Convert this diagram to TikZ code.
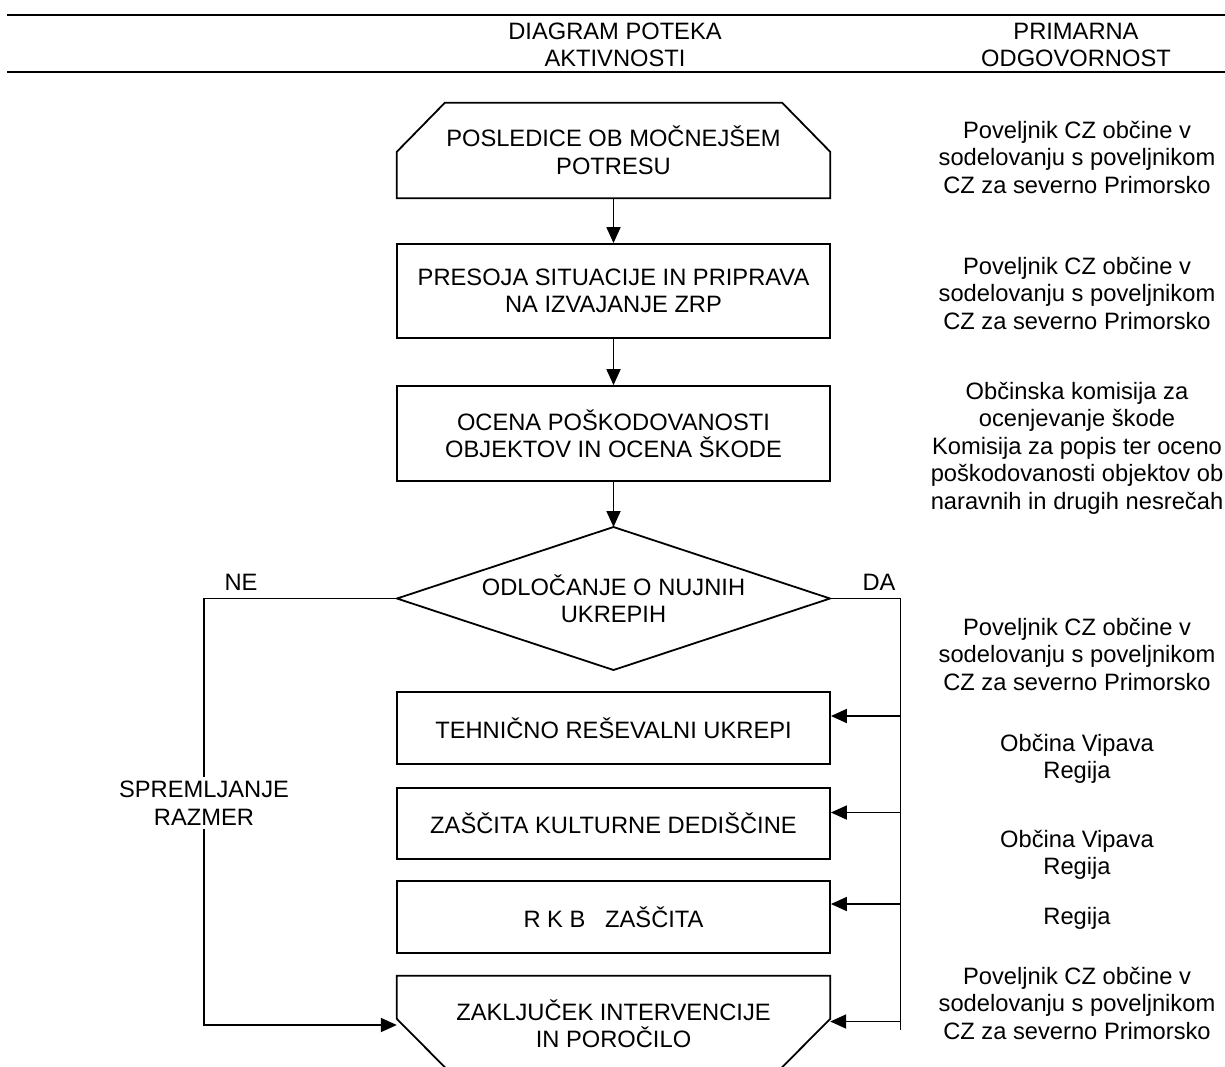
\documentclass[tikz,border=0pt]{standalone}
\usepackage{fontspec}
\setmainfont{Liberation Sans}
\usetikzlibrary{arrows.meta,calc}
\begin{document}
\begin{tikzpicture}[x=1pt,y=-1pt,
  every node/.style={font=\fontsize{23.7}{27.5}\selectfont, inner sep=0pt, align=center},
  box/.style={draw, line width=1.8pt, minimum width=433pt},
  arr/.style={line width=1.8pt, -{Triangle[length=16pt,width=14pt]}},
  ln/.style={line width=1.8pt},
  rulestyle/.style={line width=2.2pt}
]
\useasboundingbox (0,0) rectangle (1225,1066);
\clip (0,0) rectangle (1225,1066);

% header
\coordinate (r1a) at (7,15); \coordinate (r1b) at (1225,15);
\coordinate (r2a) at (7,72); \coordinate (r2b) at (1225,72);
\draw[rulestyle] (r1a) -- (r1b);
\draw[rulestyle] (r2a) -- (r2b);
\node (h1) at (615,45) {DIAGRAM POTEKA\\AKTIVNOSTI};
\node (h2) at (1076,45) {PRIMARNA\\ODGOVORNOST};

% flow
\node[minimum width=433pt, minimum height=95pt] (b1) at (613.5,150.5) {POSLEDICE OB MOČNEJŠEM\\POTRESU};
\draw[ln] (b1.south west) -- ($(b1.north west)+(0,49)$) -- ($(b1.north west)+(48,0)$)
  -- ($(b1.north east)+(-48,0)$) -- ($(b1.north east)+(0,49)$) -- (b1.south east) -- cycle;

\node[box, minimum height=94pt] (b2) at (613.5,291) {PRESOJA SITUACIJE IN PRIPRAVA\\NA IZVAJANJE ZRP};
\node[box, minimum height=95pt] (b3) at (613.5,433.5) {OCENA POŠKODOVANOSTI\\OBJEKTOV IN OCENA ŠKODE};

\node (d) at (613.5,598.5) {ODLOČANJE O NUJNIH\\UKREPIH};
\coordinate (dt) at (613.5,527);
\coordinate (db) at (613.5,670);
\coordinate (dl) at (397,598.5);
\coordinate (dr) at (830,598.5);
\draw[ln] (dt) -- (dr) -- (db) -- (dl) -- cycle;

\node[box, minimum height=72pt] (b4) at (613.5,728) {TEHNIČNO REŠEVALNI UKREPI};
\node[box, minimum height=71pt] (b5) at (613.5,823.5) {ZAŠČITA KULTURNE DEDIŠČINE};
\node[box, minimum height=72pt] (b6) at (613.5,917) {R K B \ \ ZAŠČITA};

\node[minimum width=433pt, minimum height=95pt] (b7) at (613.5,1023.5) {ZAKLJUČEK INTERVENCIJE\\IN POROČILO};
\draw[ln] ($(b7.north west)+(0,43)$) -- (b7.north west) -- (b7.north east) -- ($(b7.north east)+(0,43)$)
  -- ($(b7.south east)+(-52,0)$);
\draw[ln] ($(b7.north west)+(0,43)$) -- ($(b7.south west)+(52,0)$);

% vertical arrows
\draw[arr] (b1.south) -- (b2.north);
\draw[arr] (b2.south) -- (b3.north);
\draw[arr] (b3.south) -- (dt);

% DA branch
\coordinate (dat) at (900.5,598.5);
\coordinate (dab) at (900.5,1030);
\draw[ln] (dr) -- (dat) -- (dab);
\node (da) at (879,582) {DA};
\draw[arr] ($(b4.east -| dat)+(0,-12)$) -- ($(b4.east)+(0,-12)$);
\draw[arr] ($(b5.east -| dat)+(0,-11)$) -- ($(b5.east)+(0,-11)$);
\draw[arr] ($(b6.east -| dat)+(0,-13)$) -- ($(b6.east)+(0,-13)$);
\draw[arr] ($(b7.east -| dat)+(0,-2)$) -- ($(b7.east)+(0,-2)$);

% NE branch
\coordinate (ne) at (204,598.5);
\node (nel) at (241,582) {NE};
\node[inner ysep=4pt] (spr) at (204,803) {SPREMLJANJE\\RAZMER};
\draw[ln] (dl) -- (ne) -- (spr.north);
\draw[arr] (spr.south) |- ($(b7.west)+(0,1.5)$);

% responsibilities
\node (p1) at (1077,157) {Poveljnik CZ občine v\\sodelovanju s poveljnikom\\CZ za severno Primorsko};
\node (p2) at (1077,293) {Poveljnik CZ občine v\\sodelovanju s poveljnikom\\CZ za severno Primorsko};
\node (p3) at (1077,448) {Občinska komisija za\\ocenjevanje škode\\Komisija za popis ter oceno\\poškodovanosti objektov ob\\naravnih in drugih nesrečah};
\node (p4) at (1077,654) {Poveljnik CZ občine v\\sodelovanju s poveljnikom\\CZ za severno Primorsko};
\node (p5) at (1077,759) {Občina Vipava\\Regija};
\node (p6) at (1077,855) {Občina Vipava\\Regija};
\node (p7) at (1077,918) {Regija};
\node (p8) at (1077,1003) {Poveljnik CZ občine v\\sodelovanju s poveljnikom\\CZ za severno Primorsko};
\end{tikzpicture}
\end{document}
